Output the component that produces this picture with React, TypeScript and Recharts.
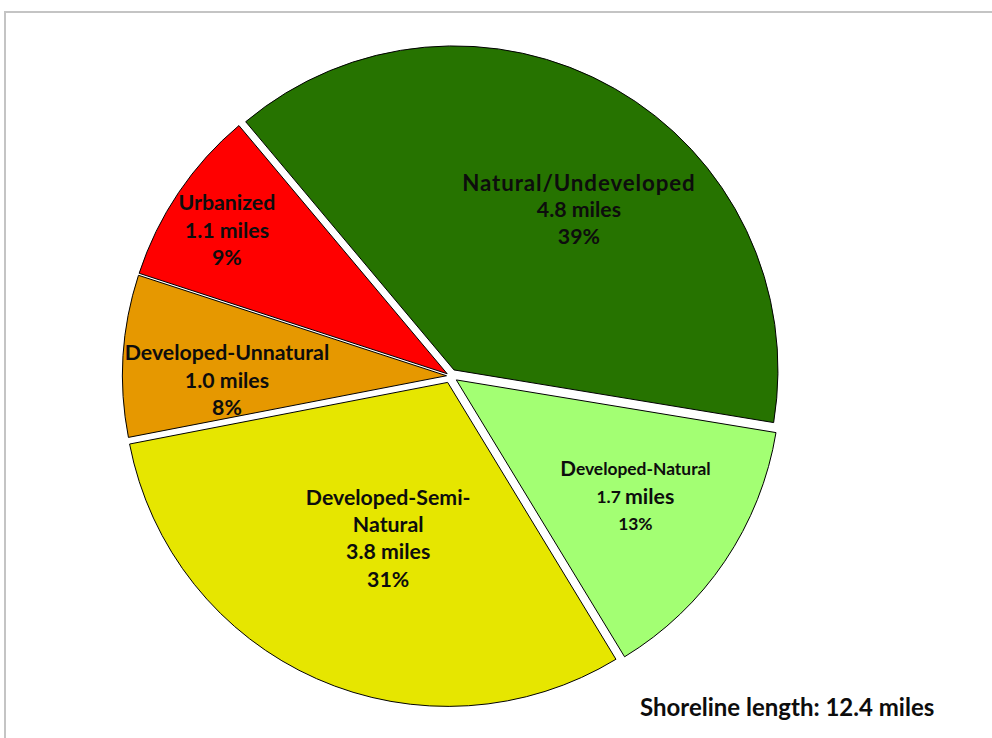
import React from 'react';
import { PieChart, Pie, Cell, Sector } from 'recharts';

// shoreline types, clockwise from the upper left
const categories = ['Natural/Undeveloped', 'Developed-Natural', 'Developed-Semi-Natural', 'Developed-Unnatural', 'Urbanized'];
const miles = [4.8, 1.7, 3.8, 1.0, 1.1];
const percents = [39, 13, 31, 8, 9];
const totalMiles = 12.4;

const COLORS = ['#267300', '#a3ff73', '#e6e600', '#e69800', '#ff0000'];
// how far each slice is pulled out of the pie, px
const EXPLODE = [7, 7, 7, 4, 4];
// label placement: distance from centre (fraction of radius) and angle nudge (deg, clockwise)
const LABEL_POS = [
  { r: 0.65, da: 7.9 },
  { r: 0.68, da: -1.1 },
  { r: 0.535, da: -2.8 },
  { r: 0.69, da: -4.5 },
  { r: 0.825, da: -0.8 },
];

const FONT = 'Lato, "Open Sans", sans-serif';
const RADIAN = Math.PI / 180;
const LINE_H = 27.3;
const LABEL_SIZE = 21.3;

const data = categories.map((name, i) => ({ name, value: miles[i], pct: percents[i] }));

const ExplodedSector = (props: any) => {
  const idx = categories.indexOf(props.name ?? props.payload?.name);
  const off = EXPLODE[idx] ?? 0;
  const a = -props.midAngle * RADIAN;
  return <Sector {...props} cx={props.cx + off * Math.cos(a)} cy={props.cy + off * Math.sin(a)} />;
};

type Line = { text: string; spacing?: number; parts?: { t: string; size: number }[] };

const labelLines = (i: number): Line[] => {
  const m = miles[i].toFixed(1);
  const p = `${percents[i]}%`;
  if (i === 0) {
    // the name line runs a little wider here
    return [{ text: '', spacing: 0.9, parts: [{ t: categories[0], size: 22.3 }] }, { text: `${m} miles` }, { text: p }];
  }
  if (i === 1) {
    // this one is set smaller, with a big initial
    return [
      { text: '', parts: [{ t: 'D', size: 20.7 }, { t: 'eveloped-Natural', size: 17.4 }] },
      { text: '', parts: [{ t: `${m} `, size: 17.4 }, { t: ' miles', size: 21.3 }] },
      { text: '', parts: [{ t: p, size: 17.4 }] },
    ];
  }
  if (i === 2) return [{ text: 'Developed-Semi-' }, { text: 'Natural' }, { text: `${m} miles` }, { text: p }];
  return [{ text: categories[i] }, { text: `${m} miles` }, { text: p }];
};

const renderLabel = (props: any) => {
  const { cx, cy, midAngle, outerRadius, index } = props;
  const pos = LABEL_POS[index];
  const ang = (midAngle - pos.da) * RADIAN;
  const x = cx + outerRadius * pos.r * Math.cos(-ang);
  const y = cy + outerRadius * pos.r * Math.sin(-ang);
  const lines = labelLines(index);
  return (
    <g key={`lbl-${index}`}>
      {lines.map((ln, j) => (
        <text
          key={j}
          x={x}
          y={y + (j - (lines.length - 1) / 2) * LINE_H}
          textAnchor="middle"
          dominantBaseline="central"
          fontFamily={FONT}
          fontWeight={700}
          fontSize={LABEL_SIZE}
          letterSpacing={ln.spacing ?? 0}
          fill="#0d0d0d"
        >
          {ln.parts
            ? ln.parts.map((pt, k) => (
                <tspan key={k} fontSize={pt.size}>
                  {pt.t}
                </tspan>
              ))
            : ln.text}
        </text>
      ))}
    </g>
  );
};

export default function App() {
  return (
    <div style={{ position: 'absolute', left: 0, top: 0, width: 992, height: 738, background: '#fff', overflow: 'hidden' }}>
      <div
        style={{
          position: 'absolute',
          left: 4,
          top: 11,
          width: 1000,
          height: 740,
          borderTop: '2px solid #c4c4c4',
          borderLeft: '2px solid #c4c4c4',
        }}
      />
      <PieChart width={992} height={738} margin={{ top: 0, right: 0, bottom: 0, left: 0 }}>
        <Pie
          data={data}
          dataKey="value"
          nameKey="name"
          cx={450.5}
          cy={376}
          outerRadius={324}
          startAngle={130}
          endAngle={-230}
          stroke="#000"
          strokeWidth={1}
          shape={ExplodedSector}
          label={renderLabel}
          labelLine={false}
          isAnimationActive={false}
        >
          {data.map((d, i) => (
            <Cell key={d.name} fill={COLORS[i]} />
          ))}
        </Pie>
      </PieChart>
      <div
        style={{
          position: 'absolute',
          left: 640,
          top: 695,
          fontFamily: FONT,
          fontWeight: 700,
          fontSize: 24,
          lineHeight: '24px',
          color: '#0d0d0d',
          whiteSpace: 'nowrap',
        }}
      >
        Shoreline length: {totalMiles} miles
      </div>
    </div>
  );
}
